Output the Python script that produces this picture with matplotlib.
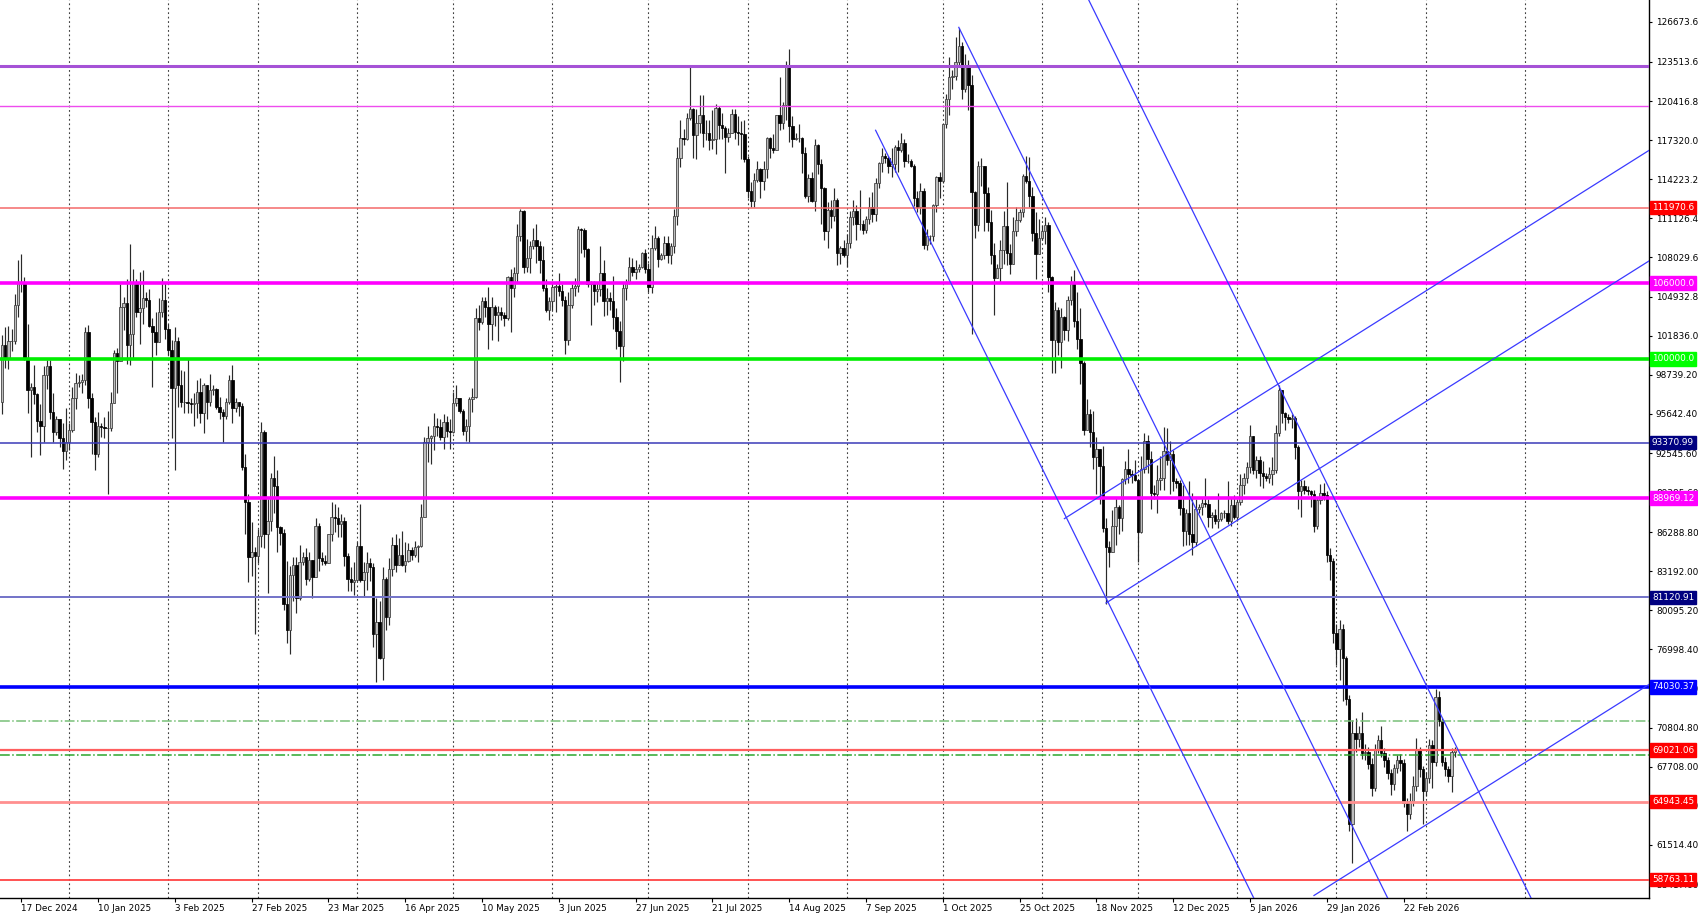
import numpy as np
import pandas as pd
import matplotlib
matplotlib.use("Agg")
import matplotlib.pyplot as plt
import matplotlib.transforms as mtransforms

plt.rcParams['font.family'] = ['DejaVu Sans']

# ---------------- data (daily BTC candles, prices in thousands USD) ----------------
start_date = "2024-12-11"
first_open = 96.6

close_2024_12 = [101.1,100.0,101.4,101.4,104.3,106.0,106.1,100.0,97.5,97.8,97.2,95.1,94.7,98.7,99.4,95.8,94.2,95.2,93.7,92.7,93.4]
high_2024_12 = [101.9,102.5,102.6,102.4,105.1,107.8,108.3,106.5,102.8,98.1,99.5,97.3,96.4,99.4,99.9,99.9,97.3,95.5,95.2,94.9,96.1]
low_2024_12 = [95.6,99.3,99.2,100.6,101.2,103.3,105.3,99.9,95.7,92.2,96.4,94.2,92.4,93.4,97.6,95.2,93.4,94.0,93.0,91.3,92.0]

close_2025_01 = [94.4,96.9,98.1,98.2,98.3,102.1,96.9,95.0,92.5,94.7,94.6,94.5,94.5,96.5,100.5,99.8,104.1,104.4,101.1,102.0,106.1,103.7,104.0,104.8,104.7,102.6,102.1,101.3,103.7,104.7,102.4]
high_2025_01 = [94.9,97.8,98.9,98.7,98.8,102.5,102.7,97.3,95.4,95.8,94.9,95.4,95.9,97.4,100.7,100.9,105.9,104.9,106.3,109.1,107.1,106.3,106.9,107.0,105.3,105.5,103.2,103.7,104.8,106.4,106.0]
low_2025_01 = [92.8,94.2,96.0,97.8,97.3,97.9,96.1,92.5,91.2,92.2,93.8,93.7,89.3,94.3,96.5,97.3,99.9,102.3,99.6,99.5,100.1,103.3,101.2,102.8,104.1,102.5,97.8,100.3,101.3,103.3,101.6]

close_2025_02 = [100.7,97.7,101.4,97.9,96.6,96.6,96.5,96.4,96.5,97.4,95.7,97.9,96.6,97.5,97.6,96.2,95.8,95.5,96.6,98.3,96.1,96.6,96.3,91.4,88.7,84.3,84.7,84.4]
high_2025_02 = [102.8,101.5,102.5,101.7,99.1,99.0,100.1,96.9,97.3,98.3,98.5,98.1,97.9,98.8,97.9,97.7,97.0,96.0,96.9,98.7,99.5,96.9,96.5,96.5,92.5,89.3,87.1,85.1]
low_2025_02 = [100.3,93.7,91.2,96.2,96.2,95.7,95.7,95.7,94.7,95.3,94.9,94.1,95.2,96.3,97.1,96.0,95.2,93.4,95.2,96.4,94.9,95.8,95.5,91.2,86.1,82.3,82.8,78.2]

close_2025_03 = [86.0,94.2,86.1,87.2,90.6,89.9,86.7,86.2,80.6,78.5,82.9,83.7,81.1,83.9,84.3,82.6,84.1,82.7,86.8,84.2,84.0,83.8,86.1,87.5,87.4,86.9,87.2,84.4,82.6,82.3,82.5]
high_2025_03 = [86.5,95.0,94.4,88.9,91.0,92.3,91.2,86.8,86.5,84.0,83.6,84.3,84.3,85.3,84.7,85.0,84.7,84.0,87.4,87.0,84.7,84.5,86.1,88.7,88.5,88.3,87.7,87.5,84.6,83.5,83.9]
low_2025_03 = [83.8,85.1,85.0,81.5,86.4,87.8,84.7,85.3,80.1,77.5,76.6,80.8,79.9,80.9,83.7,82.1,82.4,81.1,82.7,83.2,83.7,83.7,83.8,85.6,86.3,85.9,85.9,83.6,81.6,81.6,81.3]

close_2025_04 = [85.2,82.5,83.1,83.8,83.5,78.2,79.2,76.3,82.6,79.6,83.4,85.3,83.7,84.5,83.7,84.0,84.9,84.5,85.1,85.2,87.5,93.4,93.7,93.9,94.7,94.6,93.8,95.0,94.3,94.2]
high_2025_04 = [85.5,88.5,83.9,84.7,84.2,83.8,81.1,80.8,83.5,82.7,84.2,85.9,86.1,85.8,86.4,85.5,85.4,85.1,85.6,85.3,88.5,93.8,94.7,94.0,95.7,95.3,95.2,95.6,95.5,95.2]
low_2025_04 = [82.4,82.3,81.2,81.7,82.4,77.2,74.4,76.2,74.6,78.5,78.9,82.8,83.1,83.7,83.6,83.1,83.9,84.1,84.3,83.9,85.1,87.6,91.8,91.7,92.8,93.9,93.6,92.9,93.8,92.9]

close_2025_05 = [96.5,96.9,95.9,94.3,94.7,96.8,97.0,103.2,102.9,104.6,104.1,102.8,104.1,103.5,103.7,103.5,103.2,106.5,105.6,106.8,109.7,111.7,107.3,108.0,108.9,109.4,108.9,107.8,105.6,103.9,104.6]
high_2025_05 = [97.4,97.9,96.9,96.0,95.2,97.0,97.7,104.0,104.3,104.9,104.9,105.7,104.9,104.3,104.2,104.1,103.7,106.6,107.1,107.3,110.7,111.9,111.8,109.5,109.3,110.4,110.7,109.3,108.9,106.3,104.9]
low_2025_05 = [94.1,96.3,95.7,94.0,93.5,93.4,95.8,96.9,102.3,102.8,103.3,100.8,101.5,102.6,101.4,103.1,102.6,103.1,102.1,104.9,106.1,109.3,106.8,106.9,106.8,108.7,107.6,106.8,105.4,103.7,103.1]

close_2025_06 = [105.7,105.8,105.4,104.7,101.5,104.3,105.6,105.8,110.3,110.2,108.7,105.9,106.0,105.4,105.5,106.8,104.6,104.8,104.6,103.3,102.2,101.0,105.6,106.0,107.3,106.9,107.1,107.3,108.4,107.1]
high_2025_06 = [105.9,105.9,106.8,105.9,105.0,105.3,105.9,106.4,110.5,110.4,110.4,108.8,106.2,106.2,106.1,108.9,107.8,105.6,105.3,106.6,104.0,103.0,106.0,106.3,108.1,108.0,107.8,107.5,108.5,108.7]
low_2025_06 = [103.9,103.7,105.0,104.2,100.4,101.1,104.0,105.0,105.3,108.4,108.1,105.7,102.7,104.3,104.5,105.0,103.4,103.5,103.9,102.4,100.8,98.2,99.8,104.7,105.9,106.6,106.3,106.9,107.2,106.8]

close_2025_07 = [105.7,108.8,109.6,107.9,108.2,109.2,108.2,108.9,111.3,115.9,117.5,117.4,119.1,119.8,117.7,118.7,119.3,117.9,117.9,117.3,117.4,119.9,118.5,118.3,117.6,117.9,119.4,118.0,117.9,117.8,115.8]
high_2025_07 = [107.6,109.8,110.5,109.7,108.4,109.7,109.7,109.2,111.9,116.8,118.9,118.2,119.5,123.1,119.9,119.8,120.9,120.9,118.9,118.9,119.7,120.2,120.0,119.5,118.4,118.3,119.8,119.8,119.2,118.8,118.9]
low_2025_07 = [105.3,105.2,108.6,107.3,107.8,107.9,107.6,107.5,108.4,110.6,115.2,116.9,117.3,118.9,115.9,115.8,117.9,116.8,117.3,116.5,116.6,116.2,117.4,117.4,114.7,117.2,117.9,117.4,116.9,115.8,115.6]

close_2025_08 = [113.3,112.5,114.2,115.0,114.1,115.0,117.5,116.7,116.5,119.3,118.7,120.1,123.3,118.4,117.4,117.5,117.5,116.3,112.9,114.3,112.5,116.9,115.4,113.5,110.1,111.8,111.3,112.6,108.4,108.8,108.2]
high_2025_08 = [116.1,114.0,114.7,115.7,115.1,115.7,117.6,117.6,117.8,119.3,122.3,120.3,123.6,124.5,119.2,117.9,118.6,117.6,116.8,114.6,114.8,117.4,117.0,115.8,113.6,112.4,112.6,113.5,112.7,108.9,109.4]
low_2025_08 = [112.7,112.0,112.0,114.0,112.7,113.4,114.3,115.9,116.3,116.5,118.1,118.2,118.9,117.2,116.8,117.3,117.2,114.7,112.7,112.4,112.4,111.7,114.6,110.7,109.4,108.8,110.4,110.9,107.4,107.5,108.1]

close_2025_09 = [109.2,111.2,111.7,110.7,110.7,110.2,111.1,112.0,111.5,113.9,115.5,116.1,115.9,115.3,115.4,116.8,116.5,117.1,115.7,115.7,115.3,112.7,112.0,113.3,109.0,109.7,109.7,112.2,114.4,114.1]
high_2025_09 = [109.9,111.7,112.6,112.2,113.4,111.0,111.3,112.8,113.2,114.3,115.6,116.7,116.3,116.1,116.7,116.9,117.3,117.9,117.4,116.2,115.8,115.4,113.3,113.9,113.5,110.3,109.8,112.3,114.5,114.8]
low_2025_09 = [107.3,108.8,110.6,109.4,110.2,109.9,110.0,110.7,110.8,110.9,113.5,114.8,115.5,114.7,114.4,114.8,114.8,116.4,115.2,115.5,115.2,112.1,111.6,111.5,108.7,108.6,109.1,109.3,111.6,112.7]

close_2025_10 = [118.6,120.6,122.3,122.4,123.5,124.8,121.4,123.3,121.7,113.2,110.6,115.3,115.3,113.1,110.8,108.2,106.4,107.2,108.6,110.5,108.4,107.5,110.1,111.0,111.6,114.5,114.1,112.9,110.0,108.3,109.6]
high_2025_10 = [118.6,121.0,123.9,122.9,125.5,126.2,125.1,124.1,123.7,122.5,113.3,115.7,115.9,115.0,113.6,111.8,109.2,107.5,109.4,111.7,114.0,109.1,111.2,112.0,111.9,114.6,116.1,116.0,113.6,111.6,111.1]
low_2025_10 = [113.9,118.3,119.3,121.4,122.1,123.1,120.6,121.1,119.7,102.0,109.6,110.1,113.7,110.1,110.1,107.5,103.5,106.4,106.1,107.5,107.4,106.7,107.5,109.7,110.8,111.2,113.9,112.0,109.3,106.3,108.6]

close_2025_11 = [110.1,110.6,106.5,101.5,103.9,101.3,103.3,102.3,104.7,106.0,103.0,101.6,99.7,94.4,95.6,94.2,92.2,92.9,91.5,86.6,85.1,84.7,86.8,88.3,87.4,90.5,91.3,90.9,90.8,90.4]
high_2025_11 = [110.6,111.2,110.8,106.6,104.5,104.1,104.0,103.4,105.0,106.6,107.0,105.3,104.0,99.8,96.8,96.0,95.9,93.8,92.9,93.1,87.4,85.6,88.0,89.1,88.4,90.6,91.9,92.9,91.2,92.0]
low_2025_11 = [109.4,109.1,105.3,98.9,98.9,100.3,99.3,101.5,101.4,104.3,102.5,100.8,98.0,94.0,94.6,93.0,91.3,89.3,88.5,86.3,80.6,83.5,84.7,85.3,86.1,86.4,90.1,90.2,90.2,90.3]

close_2025_12 = [86.3,91.3,93.5,92.1,89.4,89.3,90.4,90.6,92.7,92.0,92.5,90.3,90.2,88.2,86.4,87.8,86.1,85.5,88.1,88.3,88.6,88.5,87.5,87.6,87.2,87.3,87.8,87.8,87.2,88.4,87.5]
high_2025_12 = [90.4,92.3,94.1,94.0,92.7,90.0,91.6,92.3,94.6,94.5,93.5,92.8,90.6,90.4,90.0,88.1,90.3,89.4,88.9,88.5,89.0,90.6,88.9,87.9,88.1,89.4,87.9,88.0,90.3,89.0,89.2]
low_2025_12 = [83.9,86.2,91.0,91.0,88.1,88.9,87.8,89.6,89.6,91.6,89.3,89.5,89.8,87.6,85.2,85.3,85.3,84.5,85.2,87.8,87.6,88.3,86.7,86.6,86.9,86.6,87.2,87.4,86.9,86.8,87.3]

close_2026_01 = [88.7,90.0,90.6,91.4,93.9,91.2,92.0,91.0,90.7,90.6,90.9,91.2,94.1,97.5,95.7,95.4,95.2,95.3,93.0,89.5,89.9,89.6,89.5,89.3,86.8,88.8,89.4,89.2,84.5,84.0,78.3]
high_2026_01 = [88.9,90.9,91.0,91.8,94.8,93.9,92.3,92.3,91.9,91.0,91.4,92.2,94.8,97.9,97.2,95.8,95.6,95.6,95.5,93.2,90.4,90.4,89.9,89.6,89.6,89.0,90.1,90.2,89.5,85.0,84.2]
low_2026_01 = [87.2,88.4,89.3,90.2,91.0,90.9,90.6,89.9,89.8,90.3,90.2,90.0,91.0,93.9,94.9,94.4,94.9,94.5,92.1,88.1,87.5,89.3,89.2,88.3,86.3,86.5,88.5,88.8,83.9,82.5,77.5]

close_2026_02 = [77.0,78.6,76.3,73.1,63.2,70.4,69.9,70.4,68.8,68.9,67.9,66.0,69.0,69.8,68.8,68.2,67.2,66.3,67.6,68.2,68.0,64.8,64.0,65.0,66.2,69.0,67.5,65.8]
high_2026_02 = [79.0,79.3,79.0,76.5,73.4,71.4,71.6,70.9,72.0,69.5,69.3,68.4,69.5,70.2,70.9,69.2,68.5,67.5,67.9,68.6,68.7,68.3,65.2,65.6,67.0,70.0,69.3,67.8]
low_2026_02 = [75.8,74.6,72.9,72.6,62.6,60.1,68.9,69.3,68.3,68.2,67.5,65.4,65.8,68.8,68.5,67.7,66.7,65.5,65.9,67.2,67.4,64.5,62.6,63.6,64.6,65.8,66.9,63.2]

close_2026_03 = [66.8,69.4,68.1,73.2,71.3,68.1,67.5,67.0,68.9,69.0]
high_2026_03 = [67.3,69.9,69.8,73.9,73.7,71.6,68.5,67.8,69.2,69.3]
low_2026_03 = [65.4,66.4,66.0,67.8,70.9,67.8,67.0,66.5,65.7,68.5]

# horizontal levels
level_prices = [123200.0, 120050.0, 111970.6, 106000.0, 100000.0, 93370.99, 88969.12,
                81120.91, 74030.37, 71300.0, 69021.06, 68640.0, 64943.45, 58763.11]
level_colors = ['#a552d6', '#ee4cee', '#f46a6a', '#ff00ff', '#00ee00', '#3a3ab8', '#ff00ff',
                '#7272c8', '#0000ff', '#78c078', '#ff5f5f', '#2ea52e', '#ff8f8f', '#ff4444']
level_widths = [2.2, 1.0, 1.1, 2.6, 2.6, 1.1, 2.6, 1.4, 2.6, 1.1, 1.6, 1.1, 2.0, 1.3]
level_styles = ['-', '-', '-', '-', '-', '-', '-', '-', '-', '-.', '-', '-.', '-', '-']
box_labels = ['111970.6', '106000.0', '100000.0', '93370.99', '88969.12', '81120.91',
              '74030.37', '69021.06', '64943.45', '58763.11']
box_colors = ['#ff0000', '#ff00ff', '#00ff00', '#000080', '#ff00ff', '#000080',
              '#0000ff', '#ff0000', '#ff0000', '#ff0000']

# trend / channel lines: start date, start price, end date, end price
trend_start_dates = ['2025-09-10', '2025-10-06', '2025-11-05', '2025-11-08', '2025-11-21', '2026-01-25']
trend_start_prices = [118100, 126250, 133868, 87350, 80670, 57512]
trend_end_dates = ['2026-01-20', '2026-03-10', '2026-04-30', '2026-05-10', '2026-05-10', '2026-05-10']
trend_end_prices = [50199, 46518, 43334, 116557, 107802, 74270]

# axis text
ytick_labels = ['126673.6', '123513.6', '120416.8', '117320.0', '114223.2', '111126.4', '108029.6',
                '104932.8', '101836.0', '98739.20', '95642.40', '92545.60', '89385.60', '86288.80',
                '83192.00', '80095.20', '76998.40', '73901.60', '70804.80', '67708.00', '64611.20',
                '61514.40', '58417.60']
xtick_labels = ['17 Dec 2024', '10 Jan 2025', '3 Feb 2025', '27 Feb 2025', '23 Mar 2025', '16 Apr 2025',
                '10 May 2025', '3 Jun 2025', '27 Jun 2025', '21 Jul 2025', '14 Aug 2025', '7 Sep 2025',
                '1 Oct 2025', '25 Oct 2025', '18 Nov 2025', '12 Dec 2025', '5 Jan 2026', '29 Jan 2026',
                '22 Feb 2026']

# ---------------- assemble ----------------
months = ['2024_12', '2025_01', '2025_02', '2025_03', '2025_04', '2025_05', '2025_06', '2025_07',
          '2025_08', '2025_09', '2025_10', '2025_11', '2025_12', '2026_01', '2026_02', '2026_03']
g = globals()
c = np.concatenate([g['close_' + m] for m in months]) * 1000
h = np.concatenate([g['high_' + m] for m in months]) * 1000
l = np.concatenate([g['low_' + m] for m in months]) * 1000
o = np.concatenate([[first_open * 1000], c[:-1]])
h = np.maximum(h, np.maximum(o, c))
l = np.minimum(l, np.minimum(o, c))
n = len(c)
x = np.arange(n)
t0 = pd.Timestamp(start_date)

def didx(s):
    return (pd.Timestamp(s) - t0).days

W, H = 1698, 914
fig = plt.figure(figsize=(W / 100, H / 100), dpi=100)
fig.patch.set_facecolor('white')
ax = fig.add_axes([0, 16 / H, 1649 / W, 898 / H])
ax.set_facecolor('white')

px_per_day = 3.2
ax.set_xlim(-2 / px_per_day, (1649 - 2) / px_per_day)
ax.set_ylim(57312, 128415)

# month separators
for d in pd.date_range('2025-01-01', '2026-04-01', freq='MS'):
    ax.axvline((d - t0).days, color='#404040', lw=0.8, ls=(0, (1.6, 2.4)), zorder=1)

# candles
up = c >= o
ax.vlines(x, l, h, color='#2a2a2a', lw=0.85, zorder=3)
ax.bar(x[up], (c - o)[up], bottom=o[up], width=0.8, color='#bdbdbd', edgecolor='#3a3a3a',
       linewidth=0.55, zorder=4)
ax.bar(x[~up], (o - c)[~up], bottom=c[~up], width=0.8, color='black', edgecolor='black',
       linewidth=0.55, zorder=4)

# horizontal levels
for p, col, lw, ls in zip(level_prices, level_colors, level_widths, level_styles):
    ax.axhline(p, color=col, lw=lw, ls=ls, zorder=5)

# trend lines
for sd, sp, ed, ep in zip(trend_start_dates, trend_start_prices, trend_end_dates, trend_end_prices):
    ax.plot([didx(sd), didx(ed)], [sp, ep], color='#3a3aff', lw=0.9, zorder=6)

# axes frame
for s in ['top', 'left']:
    ax.spines[s].set_visible(False)
ax.spines['right'].set_color('black')
ax.spines['bottom'].set_color('black')
ax.spines['right'].set_linewidth(1.0)
ax.spines['bottom'].set_linewidth(1.0)

ax.yaxis.tick_right()
ax.set_yticks([float(s) for s in ytick_labels])
ax.set_yticklabels(ytick_labels)
ax.tick_params(axis='y', direction='out', length=2.5, width=0.8, pad=2.5, labelsize=6.4,
               colors='black')

xt = [didx(pd.Timestamp(s)) for s in xtick_labels]
ax.set_xticks(xt)
ax.set_xticklabels(xtick_labels, ha='left')
ax.tick_params(axis='x', direction='out', length=3, width=0.8, pad=1.5, labelsize=6.4,
               colors='black')

# coloured price boxes on the right axis
trans = mtransforms.blended_transform_factory(ax.transAxes, ax.transData)
for txt, col in zip(box_labels, box_colors):
    ax.text(1.0 + 3 / 1649, float(txt), txt, transform=trans, color='white', fontsize=6.4,
            va='center', ha='left', clip_on=False, zorder=20,
            bbox=dict(boxstyle='square,pad=0.25', facecolor=col, edgecolor=col))

fig.savefig('out.png', dpi=100, facecolor='white')
